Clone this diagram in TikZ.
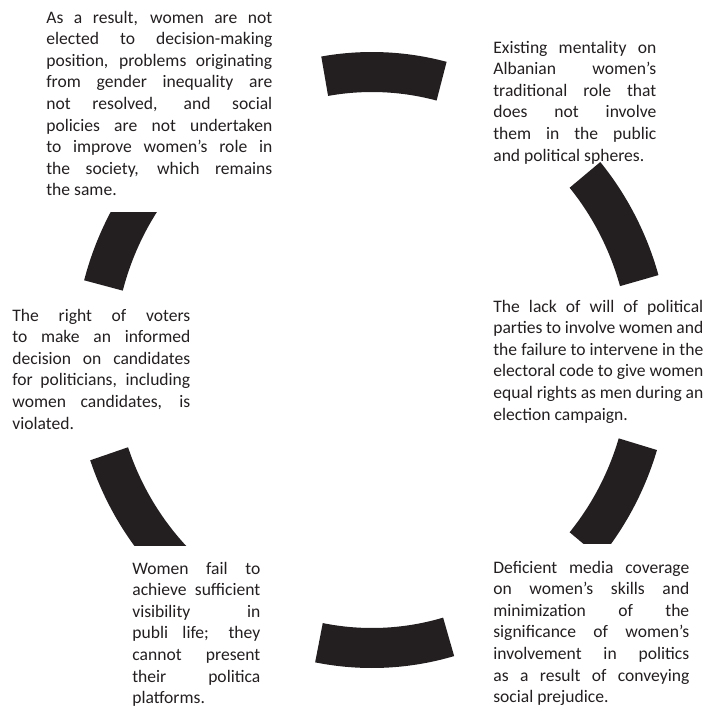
\documentclass[tikz,border=0pt]{standalone}
\usepackage{fontspec}
\setmainfont{Carlito}
\usetikzlibrary{calc}
\definecolor{ink}{HTML}{231F20}
\tikzset{
  ring/.style={fill=ink, draw=none},
  blurb/.style={inner sep=0pt, align=justify, text=ink, anchor=base west,
    font=\fontsize{10}{12.3}\selectfont}
}
\begin{document}
\begin{tikzpicture}[x=0.02cm, y=0.02cm]
                    \useasboundingbox (0,0) rectangle (718,-707);
                    \coordinate (hub) at (372,-360);

                    % Drawing segment top
                    \fill [ring] ($(hub)+({298*cos(75.5)},{308*sin(75.5)})$) arc (75.5:99.8:298 and 308) -- ($(hub)+({258*cos(99.8)},{268*sin(99.8)})$) arc (99.8:75.5:258 and 268) -- cycle;%

                    % Drawing segment upper right
                    \fill [ring] ($(hub)+({298*cos(16)},{308*sin(16)})$) arc (16:40:298 and 308) -- ($(hub)+({258*cos(40)},{268*sin(40)})$) arc (40:16:258 and 268) -- cycle;%

                    % Drawing segment lower right
                    \begin{scope}
                    \clip (0,-543) rectangle (718,0);
                    \fill [ring] ($(hub)+({298*cos(-40)},{308*sin(-40)})$) arc (-40:-17:298 and 308) -- ($(hub)+({258*cos(-17)},{268*sin(-17)})$) arc (-17:-40:258 and 268) -- cycle;%
                    \end{scope}

                    % Drawing segment bottom
                    \fill [ring] ($(hub)+({298*cos(259)},{308*sin(259)})$) arc (259:286:298 and 308) -- ($(hub)+({258*cos(286)},{268*sin(286)})$) arc (286:259:258 and 268) -- cycle;%

                    % Drawing segment lower left
                    \begin{scope}
                    \clip (0,-545) rectangle (718,0);
                    \fill [ring] ($(hub)+({298*cos(199)},{308*sin(199)})$) arc (199:225:298 and 308) -- ($(hub)+({258*cos(225)},{268*sin(225)})$) arc (225:199:258 and 268) -- cycle;%
                    \end{scope}

                    % Drawing segment upper left
                    \begin{scope}
                    \clip (0,-707) rectangle (718,-212);
                    \fill [ring] ($(hub)+({298*cos(140)},{308*sin(140)})$) arc (140:165:298 and 308) -- ($(hub)+({258*cos(165)},{268*sin(165)})$) arc (165:140:258 and 268) -- cycle;%
                    \end{scope}

                    % Marking text result
                    \draw (46,-23) node (result) [blurb, text width=4.52cm] {As a result, women are not\linebreak elected to decision-making\linebreak position, problems originating\linebreak from gender inequality are\linebreak not resolved, and social\linebreak policies are not undertaken\linebreak to improve women's role in\linebreak the society, which remains\linebreak the same.};%

                    % Marking text mentality
                    \draw (493,-53) node (mentality) [blurb, text width=3.26cm] {Existing mentality on\linebreak Albanian women's\linebreak traditional role that\linebreak does not involve\linebreak them in the public\linebreak and political spheres.};%

                    % Marking text parties
                    \draw (493,-312) node (parties) [blurb, text width=4.2cm] {The lack of will of political\linebreak parties to involve women and\linebreak the failure to intervene in the\linebreak electoral code to give women\linebreak equal rights as men during an\linebreak election campaign.};%

                    % Marking text voters
                    \draw (12,-321) node (voters) [blurb, text width=3.56cm] {The right of voters\linebreak to make an informed\linebreak decision on candidates\linebreak for politicians, including\linebreak women candidates, is\linebreak violated.};%

                    % Marking text media
                    \draw (493,-573) node (media) [blurb, text width=3.92cm] {Deficient media coverage\linebreak on women's skills and\linebreak minimization of the\linebreak significance of women's\linebreak involvement in politics\linebreak as a result of conveying\linebreak social prejudice.};%

                    % Marking text visibility
                    \draw (132,-574) node (visibility) [blurb, text width=2.56cm] {Women fail to\linebreak achieve sufficient\linebreak visibility in\linebreak publi life; they\linebreak cannot present\linebreak their politica\linebreak platforms.};%
\end{tikzpicture}
\end{document}
